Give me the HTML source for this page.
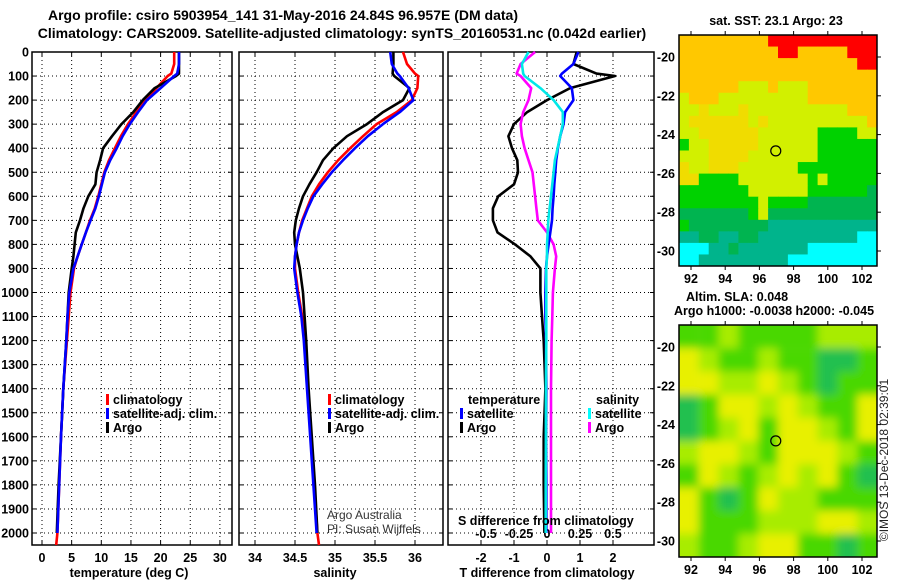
<!DOCTYPE html>
<html><head><meta charset="utf-8"><style>
body{margin:0;background:#fff;}
svg{display:block;font-family:"Liberation Sans",sans-serif;}
.b{font-weight:bold;font-size:12.5px;}
.t{font-weight:bold;font-size:14px;}
</style></head><body>
<svg id="c" width="900" height="580" viewBox="0 0 900 580">
<defs>
<filter id="blur" x="0" y="0" width="1" height="1"><feGaussianBlur stdDeviation="4.5"/></filter>
<clipPath id="clipB"><rect x="679" y="325" width="198" height="232"/></clipPath>
</defs>
<text class="t" x="283" y="20" text-anchor="middle">Argo profile: csiro 5903954_141 31-May-2016 24.84S 96.957E (DM data)</text>
<text class="t" x="342" y="38" text-anchor="middle">Climatology: CARS2009. Satellite-adjusted climatology: synTS_20160531.nc (0.042d earlier)</text>
<g id="plots"></g>
<g id="maps"></g>
<text x="888" y="460" font-size="12" text-anchor="middle" transform="rotate(-90 888 460)" fill="#222">©IMOS 13-Dec-2018 02:39:01</text>
</svg>
<script>
const depths = [0,50,90,100,150,200,250,300,350,400,450,500,550,600,650,700,750,800,850,900,1000,1100,1200,1400,1600,1800,2000,2050];
const tClim = [22.3,22.3,21.8,21.2,19.3,17.4,15.9,14.5,13.3,12.3,11.3,10.5,10.0,9.5,8.9,8.1,7.4,6.7,6.0,5.4,4.8,4.5,4.2,3.6,3.2,2.9,2.6,2.4];
const tSat = [23.1,23.1,22.8,22.3,20.0,17.7,16.2,14.8,13.6,12.6,11.5,10.6,10.1,9.6,9.0,8.2,7.4,6.7,6.0,5.3,4.6,4.3,4.1,3.6,3.2,2.9,2.6,null];
const tArgo = [23.1,23.1,23.1,22.6,19.0,17.0,15.4,13.4,11.8,10.3,9.8,9.2,9.0,7.8,7.0,6.4,5.7,5.5,5.3,5.0,4.5,4.3,4.1,3.6,3.2,2.8,2.5,null];
const sClim = [35.85,35.9,36.0,36.04,36.03,35.96,35.77,35.52,35.35,35.19,35.04,34.91,34.8,34.71,34.65,34.59,34.55,34.52,34.5,34.5,34.54,34.59,34.62,34.66,34.7,34.74,34.78,34.8];
const sSat = [35.69,35.71,35.78,35.81,35.92,35.98,35.81,35.6,35.41,35.25,35.1,34.96,34.84,34.73,34.66,34.6,34.55,34.52,34.5,34.49,34.53,34.58,34.61,34.65,34.69,34.73,34.77,null];
const sArgo = [35.73,35.73,35.72,35.74,35.93,35.85,35.6,35.4,35.15,34.98,34.85,34.77,34.68,34.6,34.55,34.51,34.49,34.5,34.53,34.56,34.6,34.62,34.64,34.67,34.71,34.75,34.78,null];
const dTArgo = [0.9,0.8,1.5,2.06,0.7,0.0,-0.6,-1.0,-1.17,-1.06,-0.9,-0.88,-1.0,-1.48,-1.64,-1.64,-1.5,-0.97,-0.5,-0.2,-0.2,-0.15,-0.1,-0.05,-0.1,-0.1,-0.08,null];
const dTSat = [0.95,0.8,0.45,0.4,0.75,0.8,0.55,0.5,0.4,0.33,0.28,0.25,0.22,0.2,0.17,0.15,0.1,0.05,0.0,-0.03,-0.05,-0.05,-0.03,-0.02,-0.03,-0.02,-0.02,null];
const dSSat = [-0.14,-0.19,-0.18,-0.17,-0.05,0.05,0.12,0.12,0.1,0.08,0.06,0.05,0.04,0.03,0.02,0.01,0.005,0,0,-0.005,-0.005,-0.005,-0.005,-0.008,-0.008,-0.01,-0.01,null];
const dSArgo = [-0.09,-0.2,-0.23,-0.2,-0.12,-0.14,-0.18,-0.2,-0.19,-0.17,-0.14,-0.11,-0.1,-0.09,-0.08,-0.07,0,0.05,0.07,0.06,0.045,0.04,0.035,0.03,0.03,0.03,0.03,null];
const depthTicks = [0,100,200,300,400,500,600,700,800,900,1000,1100,1200,1300,1400,1500,1600,1700,1800,1900,2000];
const tTicks = [0,5,10,15,20,25,30];
const sTicks = [34,34.5,35,35.5,36];
const dTTicks = [-2,-1,0,1,2];
const dSTicks = [-0.5,-0.25,0,0.25,0.5];
const dSTickLabels = ["-0.5","-0.25","0","0.25","0.5"];
const lonTicks = [92,94,96,98,100,102];
const latTicks = [-20,-22,-24,-26,-28,-30];
const sstColors = ["#ff0000","#ffc800","#f0dc00","#d2f000","#00d200","#00b450","#00b48c","#00ffff"];
const sstGrid = [
"11111111100000000000",
"11111111110011111000",
"11111111111111111100",
"11111111111111111111",
"11111133313331111111",
"31113333333331111111",
"33233323333333333111",
"32222223233333333331",
"33222222333333444433",
"43322222333333444444",
"33322223333333444444",
"23322233333344444444",
"22444433333334344444",
"44444443333334444445",
"44444444344445555555",
"55555554355555555555",
"45555555566666666666",
"66556655666666666677",
"77766566666667777777",
"77666666666777777777"];
const slaColors = {a:"#e8f000",b:"#a8ec00",c:"#48d800",d:"#20c050"};
const slaGrid = [
"ccbccccbbb","abccbccddc","aabbabcdcc","dcaababcca","dcbacaabca","baabcaaabc","cabcbabacd","acdcabbccc","acccbbbaab","bccbaaccdc"];

const NS="http://www.w3.org/2000/svg";
const plots=document.getElementById('plots'), maps=document.getElementById('maps');
function mk(tag,attrs,parent,txt){const e=document.createElementNS(NS,tag);for(const k in attrs)e.setAttribute(k,attrs[k]);if(txt!=null)e.textContent=txt;(parent||plots).appendChild(e);return e;}
const yD = d => 52 + d*0.2405;
const TOP=52, BOT=545;
const xT = t => 42 + t*5.93;
const xS = s => 255 + (s-34)*80;
const xDT = v => 547 + v*33;
const xDS = v => 547 + v*132;
const panels=[{x0:32,x1:232,fx:xT,ticks:tTicks,name:'temperature'},{x0:239,x1:443,fx:xS,ticks:sTicks,name:'salinity'},{x0:448,x1:654,fx:xDT,ticks:dTTicks,name:'difference'}];
panels.forEach((p,i)=>{
  const g=mk('g',{});
  
  
  depthTicks.forEach(d=>{ if(d>0){const l=mk('line',{x1:p.x0,x2:p.x1,y1:yD(d),y2:yD(d),stroke:'#000','stroke-width':1,'stroke-dasharray':'1,3'},g);
    
    }
    mk('line',{x1:p.x0,x2:p.x0+4,y1:yD(d),y2:yD(d),stroke:'#000'},g);mk('line',{x1:p.x1,x2:p.x1-4,y1:yD(d),y2:yD(d),stroke:'#000'},g);});
  p.ticks.forEach(t=>{const x=p.fx(t);const l=mk('line',{x1:x,x2:x,y1:TOP,y2:BOT,stroke:'#000','stroke-dasharray':'1,3'},g);
    
    
    mk('line',{x1:x,x2:x,y1:BOT,y2:BOT-4,stroke:'#000'},g);mk('line',{x1:x,x2:x,y1:TOP,y2:TOP+4,stroke:'#000'},g);
    const tl=mk('text',{x:x,y:562,'text-anchor':'middle',class:'b'},g,String(t));
    
    });
  const r=mk('rect',{x:p.x0,y:TOP,width:p.x1-p.x0,height:BOT-TOP,fill:'none',stroke:'#000','stroke-width':1.5},g);
  
  
});
depthTicks.forEach(d=>{const t=mk('text',{x:29,y:yD(d)+4.5,'text-anchor':'end',class:'b'},plots,String(d));
  
  });
dSTicks.forEach((s,i)=>{const t=mk('text',{x:xDS(s)+(s<0?5:0),y:538,'text-anchor':'middle',class:'b'},plots,dSTickLabels[i]);
  
  });
function series(vals,fx,color,name){
  let d='';let pen=false;
  vals.forEach((v,i)=>{ if(v==null){pen=false;return;} d+=(pen?'L':'M')+fx(v).toFixed(1)+','+yD(depths[i]).toFixed(1);pen=true;});
  const p=mk('path',{d:d,fill:'none',stroke:color,'stroke-width':2.6,'stroke-linejoin':'round'});
  
  
}
series(tClim,xT,'#ff0000','temp-climatology-line');
series(tArgo,xT,'#000','temp-argo-line');
series(tSat,xT,'#0000ff','temp-satellite-line');
series(sClim,xS,'#ff0000','sal-climatology-line');
series(sArgo,xS,'#000','sal-argo-line');
series(sSat,xS,'#0000ff','sal-satellite-line');
series(dTArgo,xDT,'#000','tdiff-argo-line');
series(dSArgo,xDS,'#ff00ff','sdiff-argo-line');
series(dTSat,xDT,'#0000ff','tdiff-satellite-line');
series(dSSat,xDS,'#00e8e8','sdiff-satellite-line');
function leg(x,y,color,label,name){const g=mk('g',{});
  
  
  mk('rect',{x:x,y:y-10,width:3,height:11,fill:color},g);mk('text',{x:x+7,y:y,class:'b'},g,label);}
leg(106,404,'#ff0000','climatology','legend-climatology');
leg(106,418,'#0000ff','satellite-adj. clim.','legend-satellite-adj');
leg(106,432,'#000','Argo','legend-argo');
leg(328,404,'#ff0000','climatology','legend-climatology-sal');
leg(328,418,'#0000ff','satellite-adj. clim.','legend-satellite-adj-sal');
leg(328,432,'#000','Argo','legend-argo-sal');
mk('text',{x:468,y:404,class:'b'},plots,'temperature');
mk('text',{x:596,y:404,class:'b'},plots,'salinity');
leg(460,418,'#0000ff','satellite','legend-t-satellite');
leg(460,432,'#000','Argo','legend-t-argo');
leg(588,418,'#00ffff','satellite','legend-s-satellite');
leg(588,432,'#ff00ff','Argo','legend-s-argo');
mk('text',{x:327,y:519,'font-size':12,fill:'#333'},plots,'Argo Australia');
mk('text',{x:327,y:533,'font-size':12,fill:'#333'},plots,'PI: Susan Wijffels');
mk('text',{x:458,y:525,class:'b'},plots,'S difference from climatology');
const at=[['temperature (deg C)',129,'x-axis-title-temperature'],['salinity',335,'x-axis-title-salinity'],['T difference from climatology',547,'x-axis-title-tdiff']];
at.forEach(a=>{const t=mk('text',{x:a[1],y:577,'text-anchor':'middle',class:'b'},plots,a[0]);
  
  });

const MX0=679,MX1=877;
const lonX = lon => 691 + (lon-92)*17.1;
function mapFrame(y0,y1,latY,nm){
  const g=mk('g',{},maps);
  
  
  mk('rect',{x:MX0,y:y0,width:MX1-MX0,height:y1-y0,fill:'none',stroke:'#000','stroke-width':1.5},g);
  lonTicks.forEach(l=>{const x=lonX(l);mk('line',{x1:x,x2:x,y1:y1,y2:y1+4,stroke:'#000'},g);mk('line',{x1:x,x2:x,y1:y0,y2:y0-4,stroke:'#000'},g);
    mk('text',{x:x,y:y1+17,'text-anchor':'middle',class:'b'},g,String(l));});
  latTicks.forEach(l=>{const y=latY(l);mk('line',{x1:MX1,x2:MX1+4,y1:y,y2:y,stroke:'#000'},g);
    mk('text',{x:MX0-4,y:y+4.5,'text-anchor':'end',class:'b'},g,String(l));});
}
const latY1 = lat => 57 + (-20-lat)*19.4;
const latY2 = lat => 347 + (-20-lat)*19.4;
const mt=35, mb=266, cw=(MX1-MX0)/20, ch=(mb-mt)/20;
const sst=mk('g',{},maps);


sstGrid.forEach((row,r)=>[...row].forEach((c,k)=>{mk('rect',{x:MX0+k*cw,y:mt+r*ch,width:cw+0.5,height:ch+0.5,fill:sstColors[+c]},sst);}));
mapFrame(mt,mb,latY1,'sst-map');
mk('circle',{cx:lonX(96.957),cy:latY1(-24.84),r:5,fill:'none',stroke:'#000','stroke-width':1.2},maps);
mk('text',{x:776,y:25,'text-anchor':'middle',class:'b'},maps,'sat. SST: 23.1 Argo: 23');
const mt2=325, mb2=557, cw2=(MX1-MX0)/10, ch2=(mb2-mt2)/10;
const slaWrap=mk('g',{'clip-path':'url(#clipB)'},maps);
const sla=mk('g',{filter:'url(#blur)'},slaWrap);


slaGrid.forEach((row,r)=>[...row].forEach((c,k)=>{mk('rect',{x:MX0+k*cw2-(k==0?10:0),y:mt2+r*ch2-(r==0?10:0),width:cw2+(k==0||k==9?10:0.5),height:ch2+(r==0||r==9?10:0.5),fill:slaColors[c]},sla);}));
mapFrame(mt2,mb2,latY2,'sla-map');
mk('circle',{cx:lonX(96.957),cy:latY2(-24.84),r:5,fill:'none',stroke:'#000','stroke-width':1.2},maps);
mk('text',{x:737,y:301,'text-anchor':'middle',class:'b'},maps,'Altim. SLA: 0.048');
mk('text',{x:774,y:315,'text-anchor':'middle',class:'b'},maps,'Argo h1000: -0.0038 h2000: -0.045');
</script>
</body></html>
